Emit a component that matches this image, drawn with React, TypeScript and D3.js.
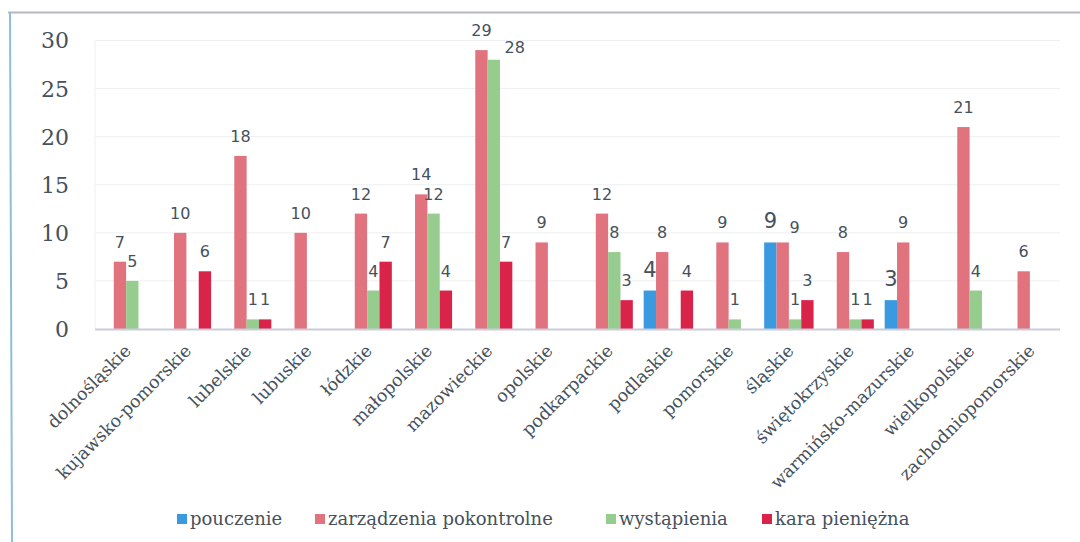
import React from "react";
import * as d3 from "d3";

const categories = [
  "dolnośląskie",
  "kujawsko-pomorskie",
  "lubelskie",
  "lubuskie",
  "łódzkie",
  "małopolskie",
  "mazowieckie",
  "opolskie",
  "podkarpackie",
  "podlaskie",
  "pomorskie",
  "śląskie",
  "świętokrzyskie",
  "warmińsko-mazurskie",
  "wielkopolskie",
  "zachodniopomorskie",
];

const seriesNames = ["pouczenie", "zarządzenia pokontrolne", "wystąpienia", "kara pieniężna"];

const pouczenie = [0, 0, 0, 0, 0, 0, 0, 0, 0, 4, 0, 9, 0, 3, 0, 0];
const zarzadzenia = [7, 10, 18, 10, 12, 14, 29, 9, 12, 8, 9, 9, 8, 9, 21, 6];
const wystapienia = [5, 0, 1, 0, 4, 12, 28, 0, 8, 0, 1, 1, 1, 0, 4, 0];
const kara = [0, 6, 1, 0, 7, 4, 7, 0, 3, 4, 0, 3, 1, 0, 0, 0];

const yTicks = [0, 5, 10, 15, 20, 25, 30];

const colors = ["#3a9ae0", "#e1737f", "#96cd8e", "#da2349"];
const legendX = [177, 315, 606, 762];
// label nudges (category index-series index) as in the reference
const labelNudge: Record<string, [number, number]> = {
  "6-2": [21, 7],
  "11-1": [12, 5],
};

export default function App() {
  const W = 1080;
  const H = 542;
  const x0 = 96;
  const x1 = 1060;
  const yBase = 329;
  const yTop = 40.5;

  const x = d3.scaleBand<string>().domain(categories).range([x0, x1]).paddingInner(0.18).paddingOuter(0.09);
  const xs = d3.scaleBand<string>().domain(seriesNames).range([0, x.bandwidth()]);
  const y = d3.scaleLinear().domain([0, 30]).range([yBase, yTop]);

  const series = [pouczenie, zarzadzenia, wystapienia, kara];
  const textColor = "#46515c";
  const serif = "'DejaVu Serif', serif";
  const sans = "'DejaVu Sans', sans-serif";

  return (
    <svg width={W} height={H} style={{ position: "absolute", left: 0, top: 0, background: "#fff" }}>
      {/* frame */}
      <line x1={8} x2={W} y1={12.5} y2={12.5} stroke="#b9b6c4" strokeWidth={2} />
      <line x1={10} x2={12} y1={12} y2={H} stroke="#8fbfd8" strokeWidth={2} />

      {/* gridlines */}
      {yTicks.slice(1).map((t) => (
        <line key={t} x1={x0 - 1} x2={x1} y1={y(t)} y2={y(t)} stroke="#eeeff2" strokeWidth={1} />
      ))}
      <line x1={x0 - 1} x2={x0 - 1} y1={yTop} y2={yBase} stroke="#f0f0f3" strokeWidth={1} />

      {/* y tick labels */}
      {yTicks.map((t) => (
        <text
          key={t}
          x={69}
          y={y(t)}
          dy="0.36em"
          textAnchor="end"
          fontFamily={serif}
          fontSize={22}
          fill={textColor}
        >
          {t}
        </text>
      ))}

      {/* bars */}
      {categories.map((c, i) => (
        <g key={c} transform={`translate(${x(c)},0)`}>
          {series.map((s, k) =>
            s[i] > 0 ? (
              <rect
                key={k}
                x={xs(seriesNames[k])}
                y={y(s[i])}
                width={xs.bandwidth()}
                height={yBase - y(s[i])}
                fill={colors[k]}
              />
            ) : null
          )}
        </g>
      ))}

      {/* axis line */}
      <line x1={x0 - 1} x2={x1} y1={yBase + 0.5} y2={yBase + 0.5} stroke="#c9ccd9" strokeWidth={2} />

      {/* data labels */}
      {categories.map((c, i) => (
        <g key={c + "l"} transform={`translate(${x(c)},0)`}>
          {series.map((s, k) => {
            if (s[i] <= 0) return null;
            const [ndx, ndy] = labelNudge[`${i}-${k}`] || [0, 0];
            return (
              <text
                key={k}
                x={(xs(seriesNames[k]) as number) + xs.bandwidth() / 2 + ndx}
                y={y(s[i]) - 14 + ndy}
                textAnchor="middle"
                fontFamily={sans}
                fontSize={k === 0 ? 21 : 16}
                fill={textColor}
              >
                {s[i]}
              </text>
            );
          })}
        </g>
      ))}

      {/* category labels */}
      {categories.map((c) => {
        const cx = (x(c) as number) + x.bandwidth() / 2 + 6;
        const cy = yBase + 23;
        return (
          <text
            key={c + "c"}
            transform={`translate(${cx},${cy}) rotate(-45)`}
            textAnchor="end"
            fontFamily={serif}
            fontSize={17.5}
            fill={textColor}
          >
            {c}
          </text>
        );
      })}

      {/* legend */}
      {seriesNames.map((n, k) => (
        <g key={n} transform={`translate(${legendX[k]},519)`}>
          <rect x={0} y={-5} width={10} height={10} fill={colors[k]} />
          <text x={13} y={0} dy="0.35em" fontFamily={serif} fontSize={18} fill={textColor}>
            {n}
          </text>
        </g>
      ))}
    </svg>
  );
}
